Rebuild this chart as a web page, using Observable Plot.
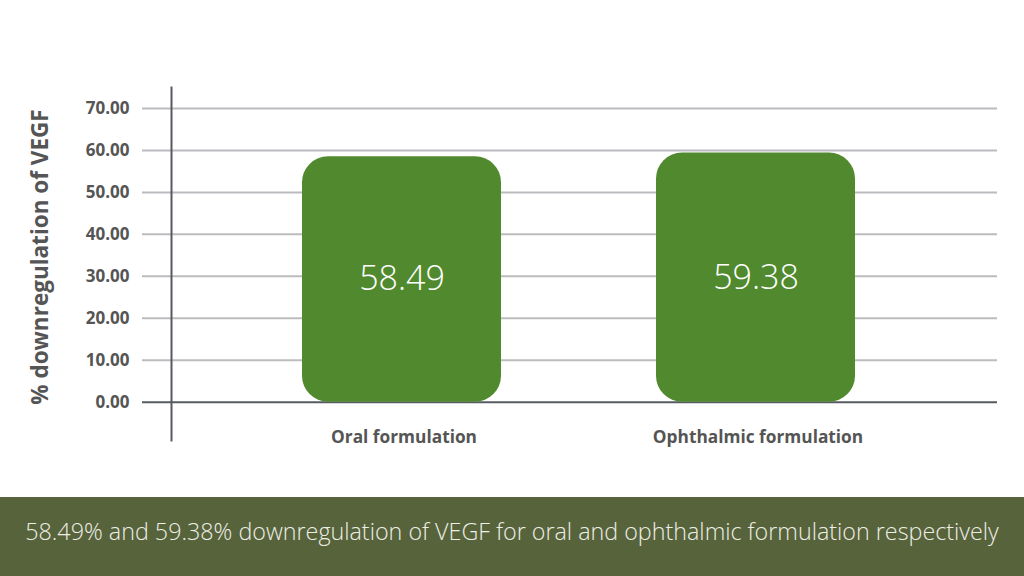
<!DOCTYPE html>
<html>
<head>
<meta charset="utf-8">
<script src="https://cdn.jsdelivr.net/npm/d3@7"></script>
<script src="https://cdn.jsdelivr.net/npm/@observablehq/plot@0.6"></script>
<style>
  html, body { margin: 0; padding: 0; background: #ffffff; width: 1024px; height: 576px; overflow: hidden; }
  #chart svg { display: block; }
  #footer {
    width: 1024px; height: 79px; box-sizing: border-box; padding-top: 19px;
    background: #57633b; color: #eeeee6; text-align: center; white-space: nowrap;
    font-family: "Open Sans", sans-serif; font-weight: 300; font-size: 23.3px; line-height: 30px;
  }
</style>
</head>
<body>
<div id="chart"></div>
<div id="footer"></div>
<script>
const categories = ["Oral formulation", "Ophthalmic formulation"];
const values = [58.49, 59.38];
const yTicks = [0, 10, 20, 30, 40, 50, 60, 70];
const yTitle = "% downregulation of VEGF";
const caption = "58.49% and 59.38% downregulation of VEGF for oral and ophthalmic formulation respectively";

const data = categories.map((c, i) => ({category: c, value: values[i]}));

const chart = Plot.plot({
  width: 1024,
  height: 497,
  marginLeft: 142,
  marginRight: 27,
  marginTop: 87,
  marginBottom: 57,
  style: {fontFamily: "'Open Sans', sans-serif", background: "#ffffff", overflow: "visible"},
  x: {domain: categories, range: [171, 986], paddingInner: 0.438, paddingOuter: 0.37, label: null},
  y: {domain: [0, 70], range: [401.7, 108], label: null},
  marks: [
    Plot.ruleY(yTicks.filter(t => t > 0), {stroke: "#bcbcc0", strokeWidth: 2}),
    Plot.ruleY([0], {stroke: "#555b61", strokeWidth: 2}),
    Plot.frame({anchor: "left", dx: 29, stroke: "#555b61", strokeWidth: 2}),
    Plot.barY(data, {x: "category", y: "value", fill: "#518a2e", rx: 26}),
    Plot.text(data, {x: "category", y: d => d.value / 2, text: d => d.value.toFixed(2), fill: "#ffffff", fontSize: 34, fontWeight: 300}),
    Plot.axisY({ticks: yTicks, tickSize: 0, tickPadding: 13, tickFormat: d => d.toFixed(2), fontSize: 17, fontWeight: "bold", fill: "#555555", label: null}),
    Plot.axisX({tickSize: 0, tickPadding: 0, dy: -10, dx: 2, fontSize: 17.3, fontWeight: "bold", fill: "#555555", label: null}),
    Plot.text([yTitle], {frameAnchor: "left", textAnchor: "middle", rotate: -90, dx: -102, dy: -7, fontSize: 22.5, fontWeight: "bold", fill: "#555555"})
  ]
});
document.getElementById("chart").appendChild(chart);
document.getElementById("footer").textContent = caption;
</script>
</body>
</html>
